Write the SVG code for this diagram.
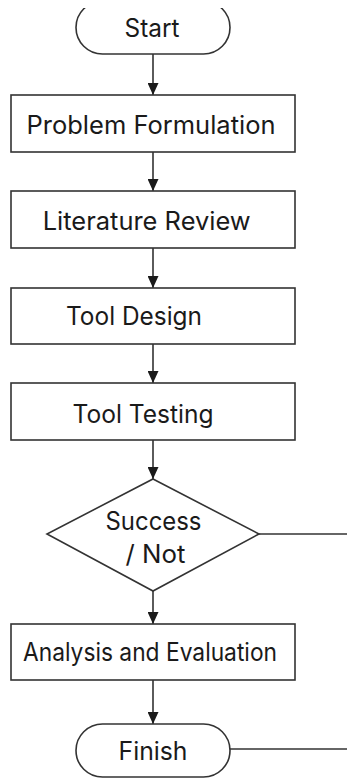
<svg xmlns="http://www.w3.org/2000/svg" width="347" height="778" viewBox="0 0 347 778">
<style>
.shape{fill:#fff;stroke:#333;stroke-width:1.6}
.conn{fill:none;stroke:#333;stroke-width:1.6}
.lbl{font-family:Inter,"Liberation Sans",sans-serif;font-size:25px;fill:#1a1a1a;text-anchor:middle}
</style>
<defs>
<marker id="ah" viewBox="0 0 12 11" refX="12" refY="5.5" markerWidth="12" markerHeight="11" markerUnits="userSpaceOnUse" orient="auto">
<path d="M0,0 L12,5.5 L0,11 Z" fill="#1a1a1a"/>
</marker>
<clipPath id="topclip"><rect x="0" y="8" width="347" height="770"/></clipPath>
</defs>
<rect width="347" height="778" fill="#fff"/>
<g id="connectors">
<line class="conn" x1="153" y1="54" x2="153" y2="95" marker-end="url(#ah)"/>
<line class="conn" x1="153" y1="152" x2="153" y2="191" marker-end="url(#ah)"/>
<line class="conn" x1="153" y1="248" x2="153" y2="288" marker-end="url(#ah)"/>
<line class="conn" x1="153" y1="344" x2="153" y2="383" marker-end="url(#ah)"/>
<line class="conn" x1="153" y1="440" x2="153" y2="479" marker-end="url(#ah)"/>
<line class="conn" x1="153" y1="591" x2="153" y2="624" marker-end="url(#ah)"/>
<line class="conn" x1="153" y1="680" x2="153" y2="724" marker-end="url(#ah)"/>
<line class="conn" x1="259" y1="534" x2="347" y2="534"/>
<line class="conn" x1="230" y1="749" x2="347" y2="749"/>
</g>
<g id="start">
<rect class="shape" x="76" y="1" width="154" height="53" rx="26.5" ry="26.5" clip-path="url(#topclip)"/>
<text class="lbl" x="152" y="37" font-size="26" textLength="55" lengthAdjust="spacingAndGlyphs">Start</text>
</g>
<g id="problem">
<rect class="shape" x="11" y="95" width="284" height="57"/>
<text class="lbl" x="151" y="134" textLength="249" lengthAdjust="spacingAndGlyphs">Problem Formulation</text>
</g>
<g id="literature">
<rect class="shape" x="11" y="191" width="284" height="57"/>
<text class="lbl" x="146.7" y="230" font-size="27" textLength="208" lengthAdjust="spacingAndGlyphs">Literature Review</text>
</g>
<g id="design">
<rect class="shape" x="11" y="288" width="284" height="56"/>
<text class="lbl" x="134" y="325" font-size="26" textLength="136" lengthAdjust="spacingAndGlyphs">Tool Design</text>
</g>
<g id="testing">
<rect class="shape" x="11" y="383" width="284" height="57"/>
<text class="lbl" x="143" y="423" font-size="25.5" textLength="141" lengthAdjust="spacingAndGlyphs">Tool Testing</text>
</g>
<g id="decision">
<polygon class="shape" points="153,479 259,534 153,591 47,534"/>
<text class="lbl" x="153.5" y="530" textLength="96" lengthAdjust="spacingAndGlyphs">Success</text>
<text class="lbl" x="155.5" y="563" textLength="60" lengthAdjust="spacingAndGlyphs">/ Not</text>
</g>
<g id="analysis">
<rect class="shape" x="11" y="624" width="284" height="56"/>
<text class="lbl" x="150" y="661" font-size="24.5" textLength="254" lengthAdjust="spacingAndGlyphs">Analysis and Evaluation</text>
</g>
<g id="finish">
<rect class="shape" x="76" y="724" width="154" height="53" rx="26.5" ry="26.5"/>
<text class="lbl" x="153" y="760" textLength="69" lengthAdjust="spacingAndGlyphs">Finish</text>
</g>
</svg>
